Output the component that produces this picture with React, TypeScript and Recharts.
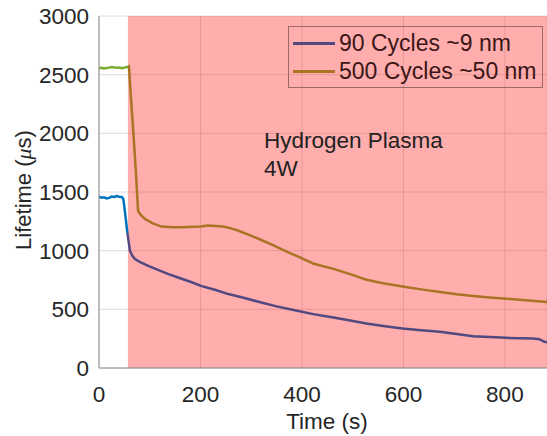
import { CartesianGrid, Line, LineChart, ReferenceArea, XAxis, YAxis } from 'recharts';

// blue series (90 cycles), before and during the plasma
const blueTimePre = [0, 5, 10, 15, 20, 25, 30, 35, 40, 45, 48, 52, 56];
const blueLifePre = [1460, 1452, 1455, 1446, 1450, 1462, 1458, 1465, 1460, 1458, 1440, 1300, 1150];
const blueTimePost = [56, 61, 66, 71, 80, 97, 115, 137, 160, 180, 201, 230, 255, 285, 320, 350, 386, 422, 462, 495, 527, 560, 598, 635, 672, 705, 737, 770, 803, 830, 855, 868, 878, 883];
const blueLifePost = [1150, 1000, 955, 929, 905, 870, 838, 800, 765, 735, 700, 665, 630, 598, 558, 525, 493, 459, 430, 405, 380, 358, 336, 322, 308, 290, 271, 265, 257, 253, 251, 245, 223, 220];

// green/orange series (500 cycles)
const greenTimePre = [0, 5, 10, 15, 20, 25, 30, 35, 40, 45, 50, 55, 58];
const greenLifePre = [2555, 2558, 2552, 2556, 2560, 2565, 2562, 2558, 2560, 2555, 2560, 2565, 2568];
const orangeTimePost = [58, 59, 63, 68, 73, 77, 83, 91, 105, 123, 145, 163, 185, 200, 215, 230, 245, 260, 275, 298, 320, 346, 373, 396, 422, 440, 462, 495, 527, 560, 598, 635, 672, 705, 737, 770, 803, 840, 883];
const orangeLifePost = [2568, 2570, 2300, 1990, 1650, 1340, 1300, 1270, 1235, 1205, 1200, 1199, 1203, 1205, 1214, 1210, 1205, 1190, 1170, 1130, 1091, 1040, 985, 943, 891, 870, 845, 800, 752, 722, 695, 670, 647, 628, 613, 600, 591, 578, 562];

const xTicks = [0, 200, 400, 600, 800];
const yTicks = [0, 500, 1000, 1500, 2000, 2500, 3000];
const plasmaStart = 57;
const xMax = 883;

const seriesNames = ['90 Cycles ~9 nm', '500 Cycles ~50 nm'];

const toPoints = (t: number[], v: number[]) => t.map((x, i) => ({ t: x, v: v[i] }));

const FONT = '"Liberation Sans", Arial, sans-serif';
const BLUE = '#0072bd';
const BLUE_IN = '#51497f';
const GREEN = '#77ac30';
const ORANGE_IN = '#aa7424';

function YLabel() {
  const cx = 23;
  const cy = 190;
  return (
    <text x={cx} y={cy} transform={`rotate(-90 ${cx} ${cy})`} textAnchor="middle" dominantBaseline="central" fontSize={22} fill="#262626" fontFamily={FONT}>
      Lifetime (<tspan fontStyle="italic" fontFamily='"Liberation Serif", serif'>μ</tspan>s)
    </text>
  );
}

function XLabel() {
  return (
    <text x={327} y={429} textAnchor="middle" fontSize={22.5} fill="#262626" fontFamily={FONT}>
      Time (s)
    </text>
  );
}

function LegendBox() {
  const colors = [BLUE_IN, ORANGE_IN];
  return (
    <div style={{ position: 'absolute', left: 288, top: 26, border: '1px solid #9a6a6a', width: 255, height: 62, boxSizing: 'border-box', fontFamily: FONT, fontSize: 23, color: '#3a1616', padding: '2px 0 0 4px' }}>
      {seriesNames.map((n, i) => (
        <div key={n} style={{ display: 'flex', alignItems: 'center', height: 28 }}>
          <span style={{ display: 'inline-block', width: 42, height: 3, background: colors[i], marginRight: 4 }} />
          <span style={{ whiteSpace: 'nowrap' }}>{n}</span>
        </div>
      ))}
    </div>
  );
}

export default function App() {
  const tickStyle = { fontSize: 22.5, fill: '#262626', fontFamily: FONT };
  return (
    <div style={{ position: 'absolute', left: 0, top: 0, width: 547, height: 436, background: '#fff' }}>
      <LineChart width={547} height={436} margin={{ top: 16, right: 0, bottom: 0, left: 0 }}>
        <CartesianGrid stroke="#dedede" strokeWidth={1} />
        <ReferenceArea x1={plasmaStart} x2={xMax} y1={0} y2={3000} fill="#ff0000" fillOpacity={0.32} stroke="none" ifOverflow="hidden" />
        <XAxis
          type="number"
          dataKey="t"
          domain={[0, xMax]}
          ticks={xTicks}
          allowDataOverflow
          height={68}
          tickLine={false}
          tickMargin={12}
          axisLine={{ stroke: '#8c8c8c' }}
          tick={tickStyle}
          label={<XLabel />}
        />
        <XAxis xAxisId="top" orientation="top" type="number" domain={[0, xMax]} height={0} tick={false} tickLine={false} axisLine={{ stroke: '#8c8c8c' }} />
        <YAxis
          type="number"
          dataKey="v"
          domain={[0, 3000]}
          ticks={yTicks}
          width={99}
          tickLine={false}
          tickMargin={4}
          axisLine={{ stroke: '#8c8c8c' }}
          tick={tickStyle}
          label={<YLabel />}
        />
        <Line data={toPoints(blueTimePre, blueLifePre)} dataKey="v" stroke={BLUE} strokeWidth={2.5} dot={false} isAnimationActive={false} />
        <Line data={toPoints(blueTimePost, blueLifePost)} dataKey="v" stroke={BLUE_IN} strokeWidth={2.5} dot={false} isAnimationActive={false} name={seriesNames[0]} />
        <Line data={toPoints(greenTimePre, greenLifePre)} dataKey="v" stroke={GREEN} strokeWidth={2.5} dot={false} isAnimationActive={false} />
        <Line data={toPoints(orangeTimePost, orangeLifePost)} dataKey="v" stroke={ORANGE_IN} strokeWidth={2.5} dot={false} isAnimationActive={false} name={seriesNames[1]} />
      </LineChart>
      <LegendBox />
      <div style={{ position: 'absolute', left: 264, top: 127, fontFamily: FONT, fontSize: 22.5, lineHeight: '28px', color: '#222' }}>
        Hydrogen Plasma
        <br />
        4W
      </div>
    </div>
  );
}
